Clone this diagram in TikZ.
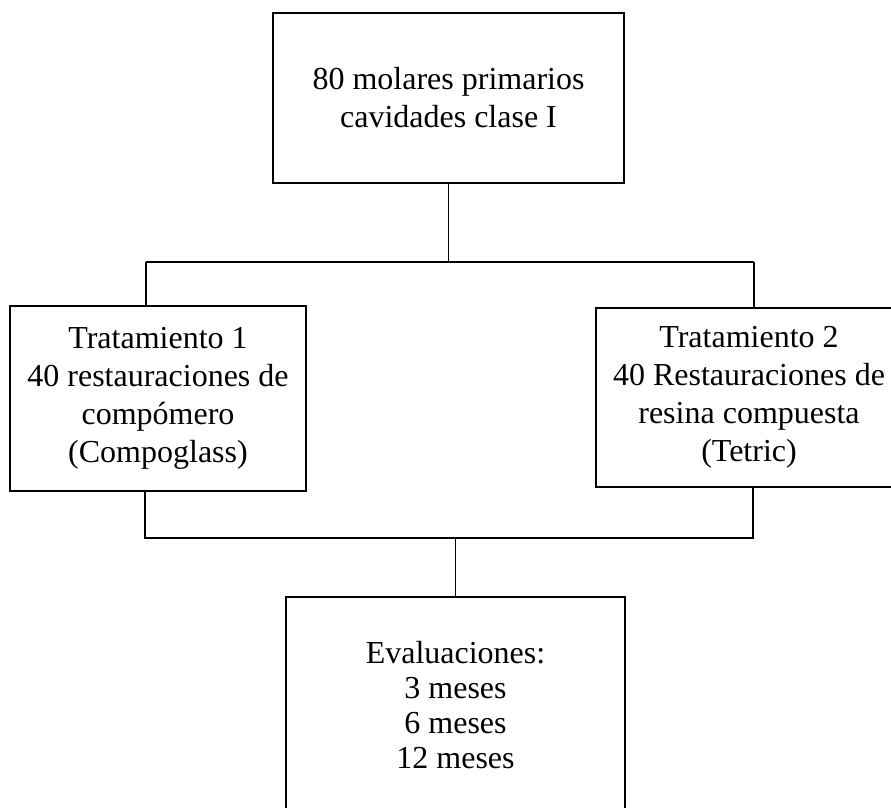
\documentclass[tikz,border=0pt]{standalone}
\usepackage{fontspec}
\setmainfont{Liberation Serif}
\begin{document}
\begin{tikzpicture}[x=1pt,y=-1pt,
  boxstyle/.style={draw=black, line width=1.1pt, align=center, inner sep=0pt,
    font=\fontsize{32}{38}\selectfont},
  link/.style={draw=black, line width=1.1pt}]
\clip (0,0) rectangle (891,807);
\node[boxstyle, minimum width=351pt, minimum height=170pt] (top) at (448.5,98)
  {80 molares primarios\\cavidades clase I};
\node[boxstyle, minimum width=296pt, minimum height=185pt] (left) at (158,398.5)
  {Tratamiento 1\\40 restauraciones de\\compómero\\(Compoglass)};
\node[boxstyle, minimum width=306pt, minimum height=179pt] (right) at (749,397.5)
  {Tratamiento 2\\40 Restauraciones de\\resina compuesta\\(Tetric)};
\node[boxstyle, font=\fontsize{32}{35}\selectfont, minimum width=339pt, minimum height=216pt] (bottom) at (455.5,705)
  {Evaluaciones:\\3 meses\\6 meses\\12 meses};
\coordinate (hc) at (448.5,262);
\coordinate (hl) at (146,262);
\coordinate (hr) at (754,262);
\coordinate (bl) at (145,538);
\coordinate (br) at (753,538);
\coordinate (bc) at (455.5,538);
\draw[link] (top.south) -- (hc);
\draw[link] (hl) -- (hr);
\draw[link] (hl) -- (hl |- left.north);
\draw[link] (hr) -- (hr |- right.north);
\draw[link] (left.south -| bl) -- (bl) -- (br) -- (right.south -| br);
\draw[link] (bc) -- (bottom.north);
\end{tikzpicture}
\end{document}
